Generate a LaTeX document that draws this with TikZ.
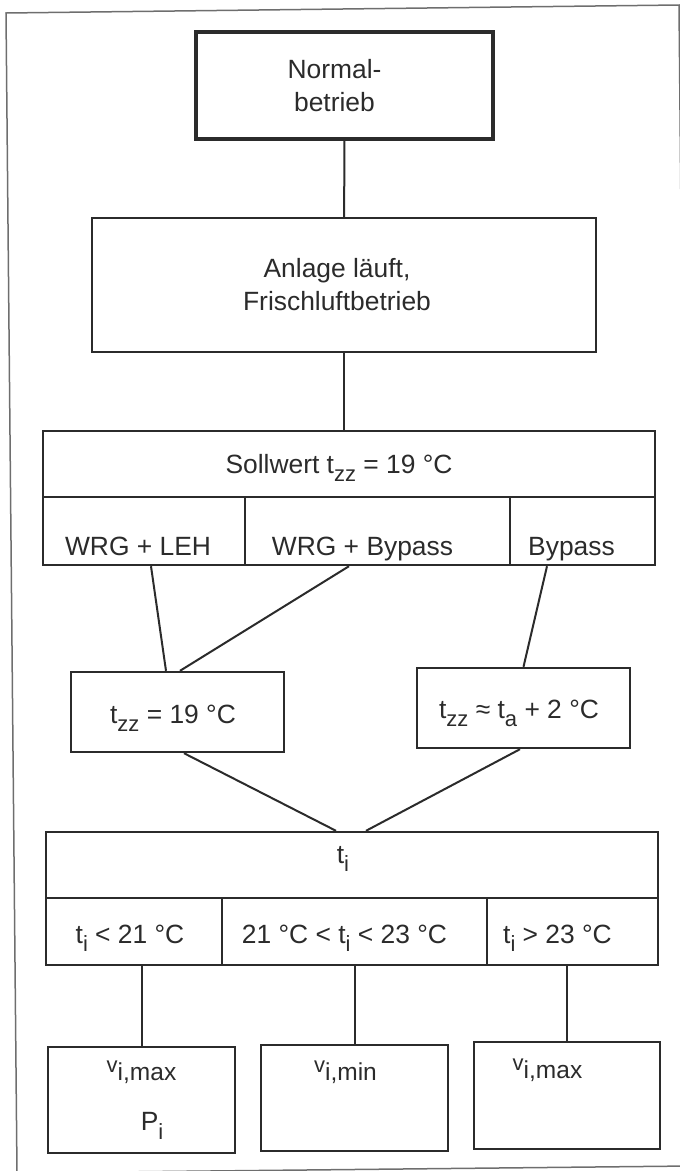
\documentclass[tikz,border=0pt]{standalone}
\usepackage{fontspec}
\setmainfont{Liberation Sans}
\usetikzlibrary{calc}

\definecolor{ink}{HTML}{2B2B2B}
\definecolor{framegray}{HTML}{6E6E6E}

\newcommand{\lowidx}[1]{\raisebox{-8.5pt}{\fontsize{22}{22}\selectfont #1}}
\newcommand{\vsym}[1]{\raisebox{8pt}{\fontsize{22}{22}\selectfont v}{\fontsize{24.5}{24.5}\selectfont #1}}

\begin{document}
\begin{tikzpicture}[x=1pt,y=-1pt,
    every node/.style={font=\fontsize{26.4}{33}\selectfont, text=ink},
    box/.style={draw=ink, line width=2.4pt, inner sep=0pt},
    link/.style={draw=ink, line width=2pt},
    frame/.style={draw=framegray, line width=1.5pt}]
        \useasboundingbox (0,0) rectangle (680,1171);

        % outer frame
        \draw [frame] (6,13) -- (679,5) -- (690,1166) -- (17,1173) -- cycle;

        % start
        \node [box, line width=3.6pt, minimum width=297, minimum height=107, align=center] (norm) at (344.5,85.5)
            {\hspace*{-20pt}Normal-\\\hspace*{-20pt}betrieb};
        \node [box, minimum width=504, minimum height=134, align=center] (anl) at (344,285)
            {\hspace*{-14pt}Anlage läuft,\\\hspace*{-14pt}Frischluftbetrieb};

        % set point and its three modes
        \node [box, minimum width=612, minimum height=66, text height=18pt, text depth=0pt] (soll) at (349,464)
            {\hspace*{-20pt}Sollwert t\lowidx{zz} = 19 °C};
        \node [box, minimum width=202, minimum height=68, text height=48pt, text depth=0pt] (wrgleh) at (144,531)
            {\hspace*{-12pt}WRG + LEH};
        \node [box, minimum width=265, minimum height=68, text height=48pt, text depth=0pt] (wrgbyp) at (377.5,531)
            {\hspace*{-30pt}WRG + Bypass};
        \node [box, minimum width=145, minimum height=68, text height=48pt, text depth=0pt] (byp) at (582.5,531)
            {\hspace*{-22pt}Bypass};

        % supply temperature
        \node [box, minimum width=213, minimum height=80, text height=22pt, text depth=0pt] (zza) at (177.5,712)
            {\hspace*{-9pt}t\lowidx{zz} = 19 °C};
        \node [box, minimum width=213, minimum height=80, text height=20pt, text depth=0pt] (zzb) at (523.5,708)
            {\hspace*{-9pt}t\lowidx{zz} ≈ t\lowidx{a} + 2 °C};

        % room temperature
        \node [box, minimum width=612, minimum height=66, text height=8pt, text depth=12pt] (ti) at (352,865)
            {\hspace*{-18pt}t\lowidx{i}};
        \node [box, minimum width=176, minimum height=67, text height=23pt, text depth=0pt] (lt21) at (134,931.5)
            {\hspace*{-8pt}t\lowidx{i} < 21 °C};
        \node [box, minimum width=265, minimum height=67, text height=23pt, text depth=0pt] (mid) at (354.5,931.5)
            {\hspace*{-20pt}21 °C < t\lowidx{i} < 23 °C};
        \node [box, minimum width=171, minimum height=67, text height=23pt, text depth=0pt] (gt23) at (572.5,931.5)
            {\hspace*{-30pt}t\lowidx{i} > 23 °C};

        % results
        \node [box, minimum width=187, minimum height=106, align=center] (resA) at (141.5,1100)
            {\vsym{i,max}\\[17pt]\hspace*{21pt}P\lowidx{i}};
        \node [box, minimum width=187, minimum height=106, text height=26pt, text depth=62pt] (resB) at (354.5,1098)
            {\hspace*{-18pt}\vsym{i,min}};
        \node [box, minimum width=186, minimum height=107, text height=26pt, text depth=61pt] (resC) at (567,1095.5)
            {\hspace*{-39pt}\vsym{i,max}};

        % connectors
        \draw [link] (norm) -- (anl);
        \draw [link] (anl.south) -- (anl.south |- soll.north);
        \draw [link] ([xshift=7pt]wrgleh.south) -- ([xshift=-11.5pt]zza.north);
        \draw [link] ([xshift=-28.5pt]wrgbyp.south) -- ([xshift=2.5pt]zza.north);
        \draw [link] ([xshift=-35.5pt]byp.south) -- (zzb.north);
        \draw [link] ([xshift=6.5pt]zza.south) -- ([xshift=-16pt]ti.north);
        \draw [link] ([xshift=-3.5pt]zzb.south) -- ([xshift=14pt]ti.north);
        \draw [link] (resA.north |- lt21.south) -- (resA.north);
        \draw [link] (resB.north |- mid.south) -- (resB.north);
        \draw [link] (resC.north |- gt23.south) -- (resC.north);

\end{tikzpicture}
\end{document}
